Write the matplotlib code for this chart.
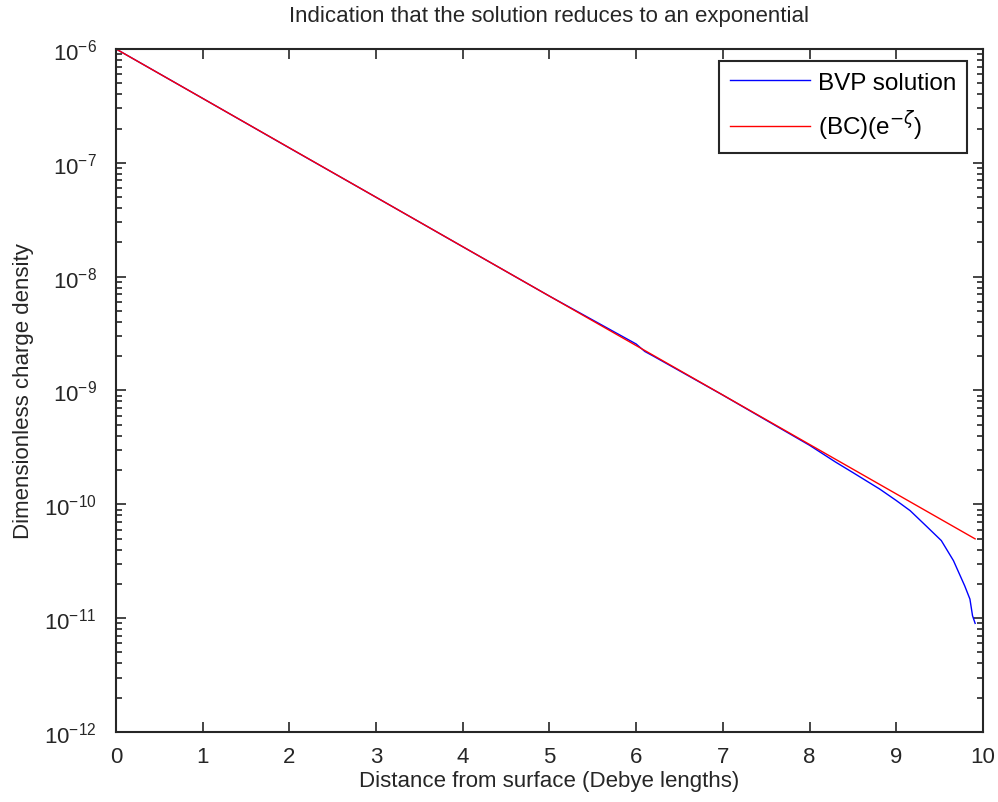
import numpy as np
import matplotlib.pyplot as plt
from matplotlib.ticker import LogLocator, FixedLocator, NullFormatter

plt.rcParams['font.family'] = ['Liberation Sans', 'DejaVu Sans']

# BVP solution
bvp_x = [0, 1, 2, 3, 4, 5, 6.0, 6.1, 6.2, 7, 8.0, 8.3, 8.5, 8.81, 9.0, 9.16,
         9.35, 9.52, 9.66, 9.79, 9.85, 9.88, 9.91]
bvp_y = [1e-6, 3.68e-7, 1.35e-7, 4.98e-8, 1.83e-8, 6.74e-9, 2.56e-9, 2.2e-9,
         2.0e-9, 9.1e-10, 3.3e-10, 2.35e-10, 1.9e-10, 1.36e-10, 1.08e-10, 8.8e-11,
         6.4e-11, 4.8e-11, 3.2e-11, 1.92e-11, 1.47e-11, 1.05e-11, 9.0e-12]

# (BC)(e^-zeta): straight line on the log axis
exp_x = [0, 9.91]
exp_y = [1e-6, 4.97e-11]

x_ticks = [0, 1, 2, 3, 4, 5, 6, 7, 8, 9, 10]

fig = plt.figure(figsize=(9.98, 8.03), dpi=100)
ax = fig.add_axes([0.1162, 0.0872, 0.8687, 0.8506])

ax.semilogy(bvp_x, bvp_y, color='blue', lw=1.0, label='BVP solution')
ax.semilogy(exp_x, exp_y, color='red', lw=1.0, label=r'(BC)(e$^{-\zeta}$)')

ax.set_xlim(0, 10)
ax.set_ylim(1e-12, 1e-6)
ax.xaxis.set_major_locator(FixedLocator(x_ticks))
ax.yaxis.set_major_locator(LogLocator(base=10, numticks=20))
ax.yaxis.set_minor_locator(LogLocator(base=10, subs=np.arange(2, 10), numticks=20))
ax.yaxis.set_minor_formatter(NullFormatter())

ax.tick_params(which='both', direction='in', top=True, right=True,
               labelsize=16, colors='#262626')
ax.tick_params(which='major', length=7, width=1.2)
ax.tick_params(which='minor', length=4, width=1.2)
ax.tick_params(axis='x', pad=10)
ax.tick_params(axis='y', pad=14)
for s in ax.spines.values():
    s.set_linewidth(1.5)
    s.set_color('#262626')

ax.set_title('Indication that the solution reduces to an exponential',
             fontsize=16, color='#262626', pad=20)
ax.set_xlabel('Distance from surface (Debye lengths)', fontsize=16, color='#262626')
ax.set_ylabel('Dimensionless charge density', fontsize=16, color='#262626')
ax.xaxis.set_label_coords(0.5, -0.056)
ax.yaxis.set_label_coords(-0.094, 0.5)

leg = ax.legend(loc='upper right', bbox_to_anchor=(0.9815, 0.9824), fontsize=17.5,
                fancybox=False, framealpha=1, edgecolor='#262626',
                handlelength=3.3, handletextpad=0.3, labelspacing=0.6,
                borderpad=0.45, borderaxespad=0)
leg.get_frame().set_linewidth(1.5)

fig.savefig('out.png', dpi=100)
